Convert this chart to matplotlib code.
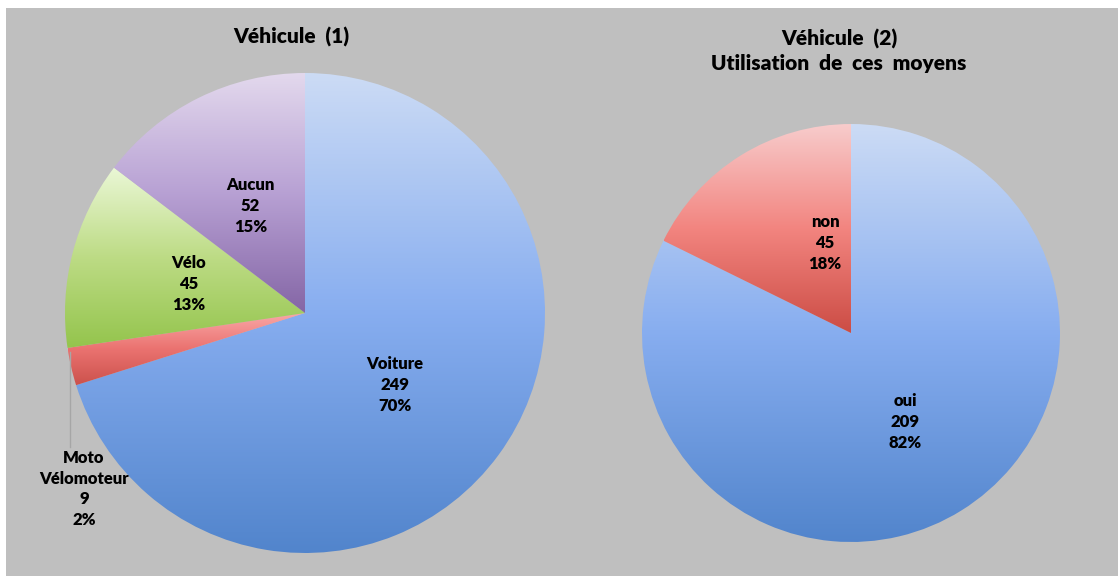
import numpy as np
import matplotlib
matplotlib.use("Agg")
import matplotlib.pyplot as plt
from matplotlib.colors import LinearSegmentedColormap

plt.rcParams['font.family'] = ['Lato', 'DejaVu Sans']

# data
labels1 = ['Voiture', 'Moto\nVélomoteur', 'Vélo', 'Aucun']
values1 = [249, 9, 45, 52]
pct1 = [70, 2, 13, 15]
labels2 = ['oui', 'non']
values2 = [209, 45]
pct2 = [82, 18]

# gradient colours per slice (top, middle, bottom)
grad1 = [
    [(0.80, 0.86, 0.96), (0.53, 0.68, 0.94), (0.32, 0.52, 0.80)],
    [(0.98, 0.66, 0.66), (0.92, 0.45, 0.44), (0.80, 0.32, 0.30)],
    [(0.92, 0.97, 0.84), (0.74, 0.86, 0.52), (0.58, 0.77, 0.30)],
    [(0.89, 0.85, 0.93), (0.72, 0.63, 0.83), (0.52, 0.40, 0.65)],
]
grad2 = [
    [(0.80, 0.86, 0.96), (0.53, 0.68, 0.94), (0.32, 0.52, 0.80)],
    [(0.97, 0.80, 0.80), (0.95, 0.52, 0.50), (0.80, 0.30, 0.27)],
]

W, H = 1118, 576
fig = plt.figure(figsize=(W / 100, H / 100), dpi=100)
fig.patch.set_facecolor('white')
ax = fig.add_axes([0, 0, 1, 1])
ax.axis('off')
ax.add_patch(plt.Rectangle((6, 0), W - 6, H - 8, facecolor='#BFBFBF', edgecolor='none', zorder=0))


def gradient_pie(values, grads, center, radius):
    wedges, _ = ax.pie(values, startangle=90, counterclock=False, center=center,
                       radius=radius, frame=True,
                       wedgeprops=dict(facecolor='none', edgecolor='none'))
    for w, g in zip(wedges, grads):
        bb = w.get_path().get_extents(w.get_patch_transform())
        cmap = LinearSegmentedColormap.from_list('g', g)
        img = np.linspace(0, 1, 256).reshape(-1, 1)
        im = ax.imshow(img, cmap=cmap, aspect='auto', origin='upper',
                       extent=(bb.x0, bb.x1, bb.y0, bb.y1), zorder=1,
                       interpolation='bilinear')
        im.set_clip_path(w)
    return wedges


def label_pos(center, radius, angle, r):
    a = np.deg2rad(angle)
    return center[0] + r * radius * np.cos(a), center[1] + r * radius * np.sin(a)


lab_kw = dict(ha='center', va='center', fontsize=12, fontweight='heavy',
              linespacing=1.38, zorder=3)

# pie 1
c1, r1 = (305, H - 313), 240
gradient_pie(values1, grad1, c1, r1)
pos1 = [(-38.5, 0.48), None, (166, 0.5), (117, 0.5)]
for lab, v, p, pos in zip(labels1, values1, pct1, pos1):
    if pos is None:
        continue
    x, y = label_pos(c1, r1, pos[0], pos[1])
    ax.text(x, y, f'{lab}\n{v}\n{p}%', **lab_kw)
# small slice label outside with leader line
ax.plot([70, 70], [H - 352, H - 447], color='#A6A6A6', lw=1, zorder=2)
ax.text(84, H - 489, f'{labels1[1]}\n{values1[1]}\n{pct1[1]}%', **lab_kw)
ax.text(291, H - 37, 'Véhicule  (1)', ha='center', va='center',
        fontsize=15, fontweight='heavy')

# pie 2
c2, r2 = (851, H - 333), 209
gradient_pie(values2, grad2, c2, r2)
pos2 = [(-58.7, 0.5), (106, 0.45)]
for lab, v, p, pos in zip(labels2, values2, pct2, pos2):
    x, y = label_pos(c2, r2, pos[0], pos[1])
    ax.text(x, y, f'{lab}\n{v}\n{p}%', **lab_kw)
ax.text(839, H - 51, 'Véhicule  (2)\nUtilisation  de  ces  moyens', ha='center',
        va='center', fontsize=15, fontweight='heavy', linespacing=1.35)

ax.set_xlim(0, W)
ax.set_ylim(0, H)
ax.set_aspect('auto')
fig.savefig('out.png', dpi=100, facecolor='white')
